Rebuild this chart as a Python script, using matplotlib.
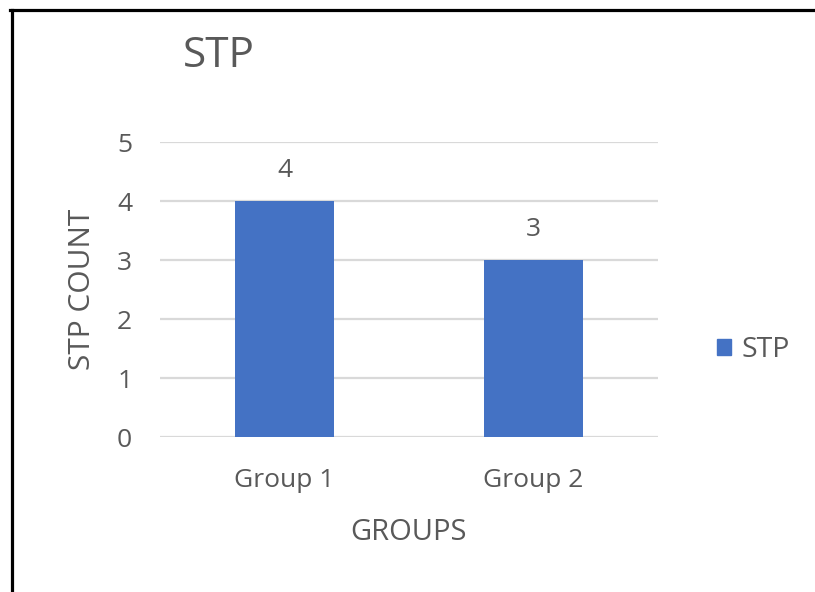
import matplotlib
matplotlib.use("Agg")
import matplotlib.pyplot as plt
from matplotlib.lines import Line2D
from matplotlib.patches import Patch

# Data
groups = ["Group 1", "Group 2"]
stp_counts = [4, 3]

bar_color = "#4472C4"
text_color = "#595959"
grid_color = "#D9D9D9"

plt.rcParams["font.family"] = ["Open Sans", "DejaVu Sans"]

fig = plt.figure(figsize=(8.15, 5.92), dpi=100)
ax = fig.add_axes([0.1963, 0.2618, 0.611, 0.4983])

x = range(len(groups))
ax.bar(x, stp_counts, width=0.4, color=bar_color, zorder=3, label="STP")

# value labels above the bars
for xi, v in zip(x, stp_counts):
    ax.text(xi, v + 0.41, str(v), ha="center", va="baseline",
            fontsize=19, color=text_color)

ax.set_xlim(-0.5, 1.5)
ax.set_ylim(0, 5)
ax.set_yticks(range(0, 6))
ax.set_xticks(list(x))
ax.set_xticklabels(groups)
ax.tick_params(axis="both", length=0, labelsize=19, colors=text_color)
ax.tick_params(axis="y", pad=20)
ax.tick_params(axis="x", pad=22.5)

ax.yaxis.grid(True, color=grid_color, linewidth=1.6, zorder=0)
for s in ax.spines.values():
    s.set_visible(False)

ax.set_ylabel("STP COUNT", fontsize=21.5, color=text_color)
ax.yaxis.set_label_coords(-0.127, 0.5)
ax.set_xlabel("GROUPS", fontsize=21, color=text_color)
ax.xaxis.set_label_coords(0.5, -0.276)

fig.text(183 / 815, 1 - 67 / 592, "STP", fontsize=30.5, color=text_color,
         ha="left", va="baseline")

ax.legend(handles=[Patch(color=bar_color, label="STP")], loc="center left",
          bbox_to_anchor=(1.067, 0.295), frameon=False, fontsize=20.5,
          labelcolor=text_color, handlelength=0.5, handleheight=0.5,
          handletextpad=0.35)

# frame lines along the top and left edges
fig.add_artist(Line2D([11.5 / 815, 11.5 / 815], [0, 1 - 9.5 / 592],
                      transform=fig.transFigure, color="black", linewidth=2.3))
fig.add_artist(Line2D([10 / 815, 1], [1 - 9.5 / 592, 1 - 9.5 / 592],
                      transform=fig.transFigure, color="black", linewidth=2.3))

fig.savefig("out.png", dpi=100)
